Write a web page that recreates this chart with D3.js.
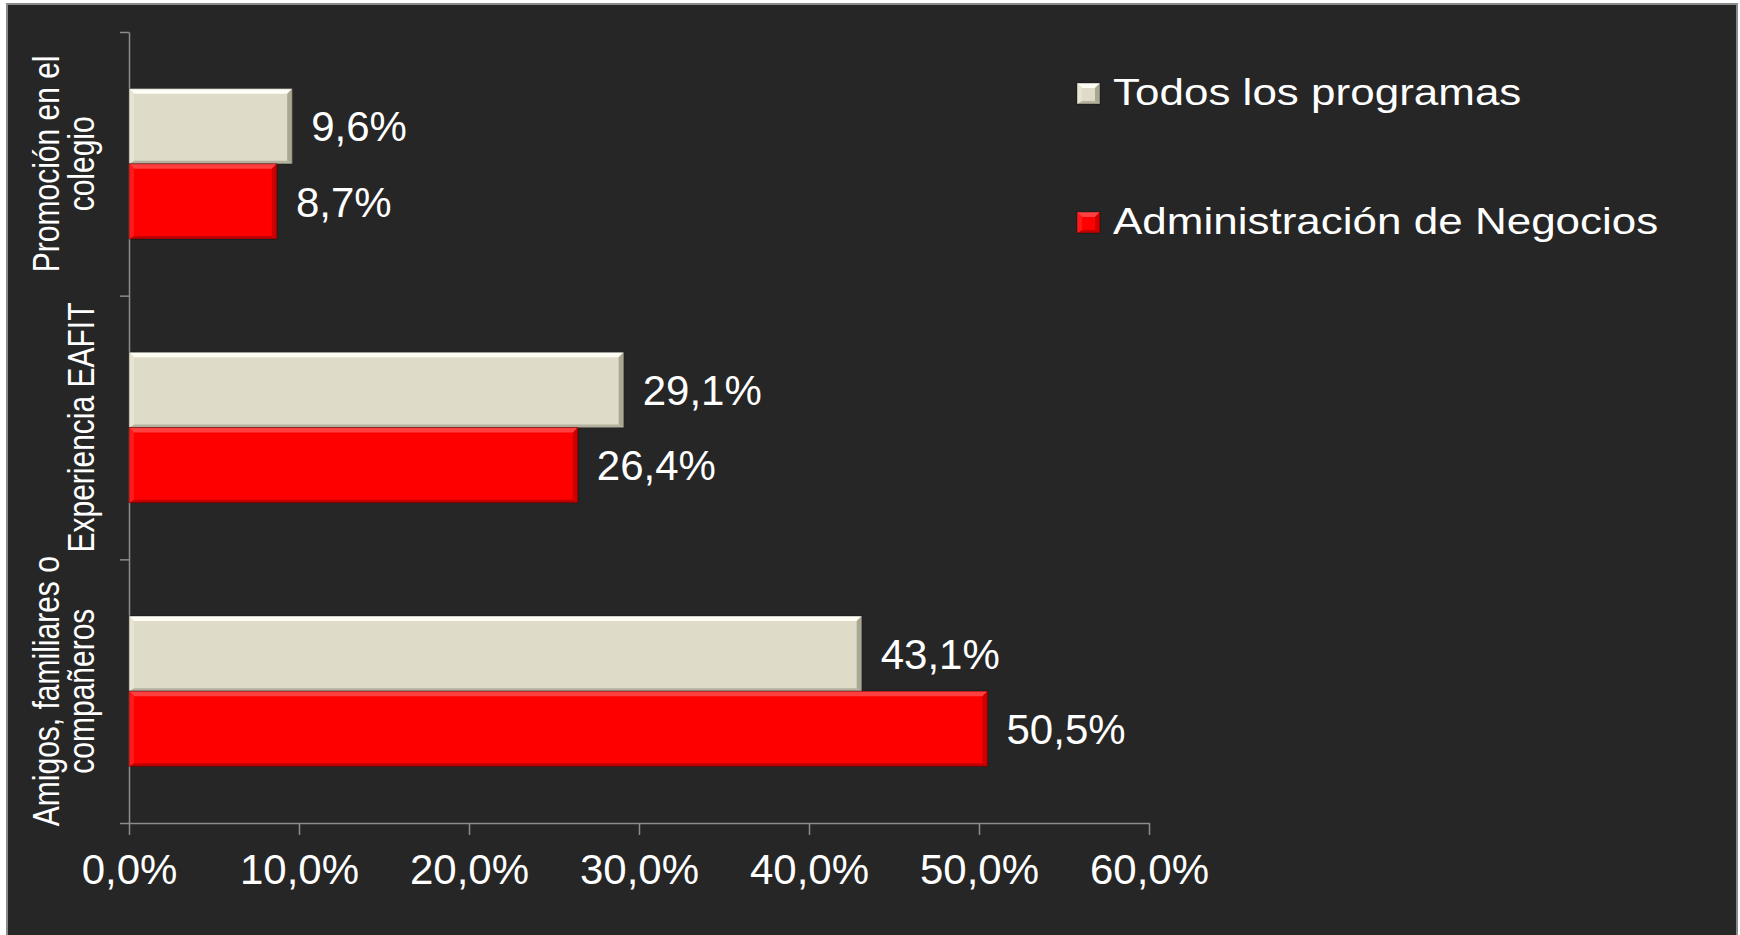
<!DOCTYPE html>
<html>
<head>
<meta charset="utf-8">
<script src="https://cdn.jsdelivr.net/npm/d3@7"></script>
<style>
  body { margin: 0; background: #fff; }
  svg text { font-family: "Liberation Sans", Arial, sans-serif; fill: #fff; }
</style>
</head>
<body>
<script>
const w = 1740;
const h = 935;
const plot = { left: 129, right: 1149, top: 32, bottom: 823 };

// data
const categories = ['Promoción en el colegio', 'Experiencia EAFIT', 'Amigos, familiares o compañeros'];
const categoryLines = [['Promoción en el', 'colegio'], ['Experiencia EAFIT'], ['Amigos, familiares o', 'compañeros']];
const series = ['Todos los programas', 'Administración de Negocios'];
const todos = [9.6, 29.1, 43.1];
const admin = [8.7, 26.4, 50.5];
const xTicks = [0, 10, 20, 30, 40, 50, 60];

const colors = {
  'Todos los programas': { fill: '#dedbc8', top: '#fdfdf3', left: '#e7e4d4', bottom: '#b4b19e', right: '#aaa793' },
  'Administración de Negocios': { fill: '#fe0000', top: '#ff4040', left: '#ff1a1a', bottom: '#c20000', right: '#cc0000' }
};

const rows = [];
categories.forEach((c, i) => {
  rows.push({ cat: c, serie: series[0], value: todos[i] });
  rows.push({ cat: c, serie: series[1], value: admin[i] });
});

const svg = d3.select('body').append('svg')
  .attr('width', w)
  .attr('height', h);

// background panel
svg.append('rect')
  .attr('x', 7).attr('y', 4)
  .attr('width', 1730).attr('height', 950)
  .attr('fill', '#262626')
  .attr('stroke', '#8a8a8a')
  .attr('stroke-width', 2);

const xScale = d3.scaleLinear().domain([0, 60]).range([plot.left, plot.right]);
const yScale = d3.scaleBand().domain(categories).range([plot.top, plot.bottom])
  .paddingInner(0.43).paddingOuter(0.215);
const ySub = d3.scaleBand().domain(series).range([0, yScale.bandwidth()]);
const yIdx = d3.scaleLinear().domain([0, categories.length]).range([plot.top, plot.bottom]);

// axes
const xAxis = d3.axisBottom(xScale)
  .tickValues(xTicks)
  .tickSize(12)
  .tickSizeOuter(0)
  .tickPadding(19)
  .tickFormat(d => d.toFixed(1).replace('.', ',') + '%');

const yAxis = d3.axisLeft(yIdx)
  .tickValues(d3.range(categories.length + 1))
  .tickSize(9)
  .tickSizeOuter(0)
  .tickFormat('');

const gx = svg.append('g')
  .attr('transform', `translate(0, ${plot.bottom})`)
  .call(xAxis);
const gy = svg.append('g')
  .attr('transform', `translate(${plot.left}, 0)`)
  .call(yAxis);

[gx, gy].forEach(g => {
  g.selectAll('path, line').attr('stroke', '#8c8c8c').attr('stroke-width', 1.5);
});
gx.selectAll('text')
  .attr('font-size', 42)
  .attr('font-family', '"Liberation Sans", Arial, sans-serif')
  .attr('fill', '#fff');

// bars with a bevel look
const bevel = 5;
const bars = svg.append('g').selectAll('g.bar')
  .data(rows)
  .enter()
  .append('g')
  .attr('class', 'bar');

function drawBevel(g, x0, x1, y0, y1, c, b) {
  g.append('rect')
    .attr('x', x0).attr('y', y0)
    .attr('width', x1 - x0).attr('height', y1 - y0)
    .attr('fill', c.fill);
  const polys = [
    [[x0, y0], [x1, y0], [x1 - b, y0 + b], [x0 + b, y0 + b], c.top],
    [[x0, y1], [x1, y1], [x1 - b, y1 - b * 0.6], [x0 + b, y1 - b * 0.6], c.bottom],
    [[x0, y0], [x0 + b, y0 + b], [x0 + b, y1 - b * 0.6], [x0, y1], c.left],
    [[x1, y0], [x1 - b, y0 + b], [x1 - b, y1 - b * 0.6], [x1, y1], c.right]
  ];
  polys.forEach(p => {
    g.append('polygon')
      .attr('points', p.slice(0, 4).map(q => q.join(',')).join(' '))
      .attr('fill', p[4]);
  });
  g.append('rect')
    .attr('x', x0).attr('y', y0)
    .attr('width', x1 - x0).attr('height', y1 - y0)
    .attr('fill', 'none')
    .attr('stroke', 'rgba(0,0,0,0.35)')
    .attr('stroke-width', 1);
}

bars.each(function (d) {
  const y0 = yScale(d.cat) + ySub(d.serie);
  drawBevel(d3.select(this), xScale(0), xScale(d.value), y0, y0 + ySub.bandwidth(), colors[d.serie], bevel);
});

// value labels
svg.append('g').selectAll('text')
  .data(rows)
  .enter()
  .append('text')
  .attr('x', d => xScale(d.value) + 19)
  .attr('y', d => yScale(d.cat) + ySub(d.serie) + ySub.bandwidth() / 2)
  .attr('dy', '0.36em')
  .attr('font-size', 42)
  .text(d => d.value.toFixed(1).replace('.', ',') + '%');

// category labels (rotated)
const catG = svg.append('g');
categories.forEach((c, i) => {
  const lines = categoryLines[i];
  const cy = yScale(c) + yScale.bandwidth() / 2;
  lines.forEach((line, j) => {
    const bx = 94 - (lines.length - 1 - j) * 35;
    catG.append('text')
      .attr('transform', `translate(${bx}, ${cy}) rotate(-90) scale(1, 1.2)`)
      .attr('text-anchor', 'middle')
      .attr('font-size', 30)
      .text(line);
  });
});

// legend
const legend = svg.append('g')
  .attr('transform', 'translate(1077, 83)');
const legendItems = legend.selectAll('g')
  .data(series)
  .enter()
  .append('g')
  .attr('transform', (d, i) => `translate(0, ${i * 129})`);

legendItems.each(function (d) {
  drawBevel(d3.select(this), 0, 23, 0, 21, colors[d], 5);
});

legendItems.append('text')
  .attr('transform', 'translate(36, 22) scale(1, 0.85)')
  .attr('font-size', 44)
  .text(d => d);
</script>
</body>
</html>
